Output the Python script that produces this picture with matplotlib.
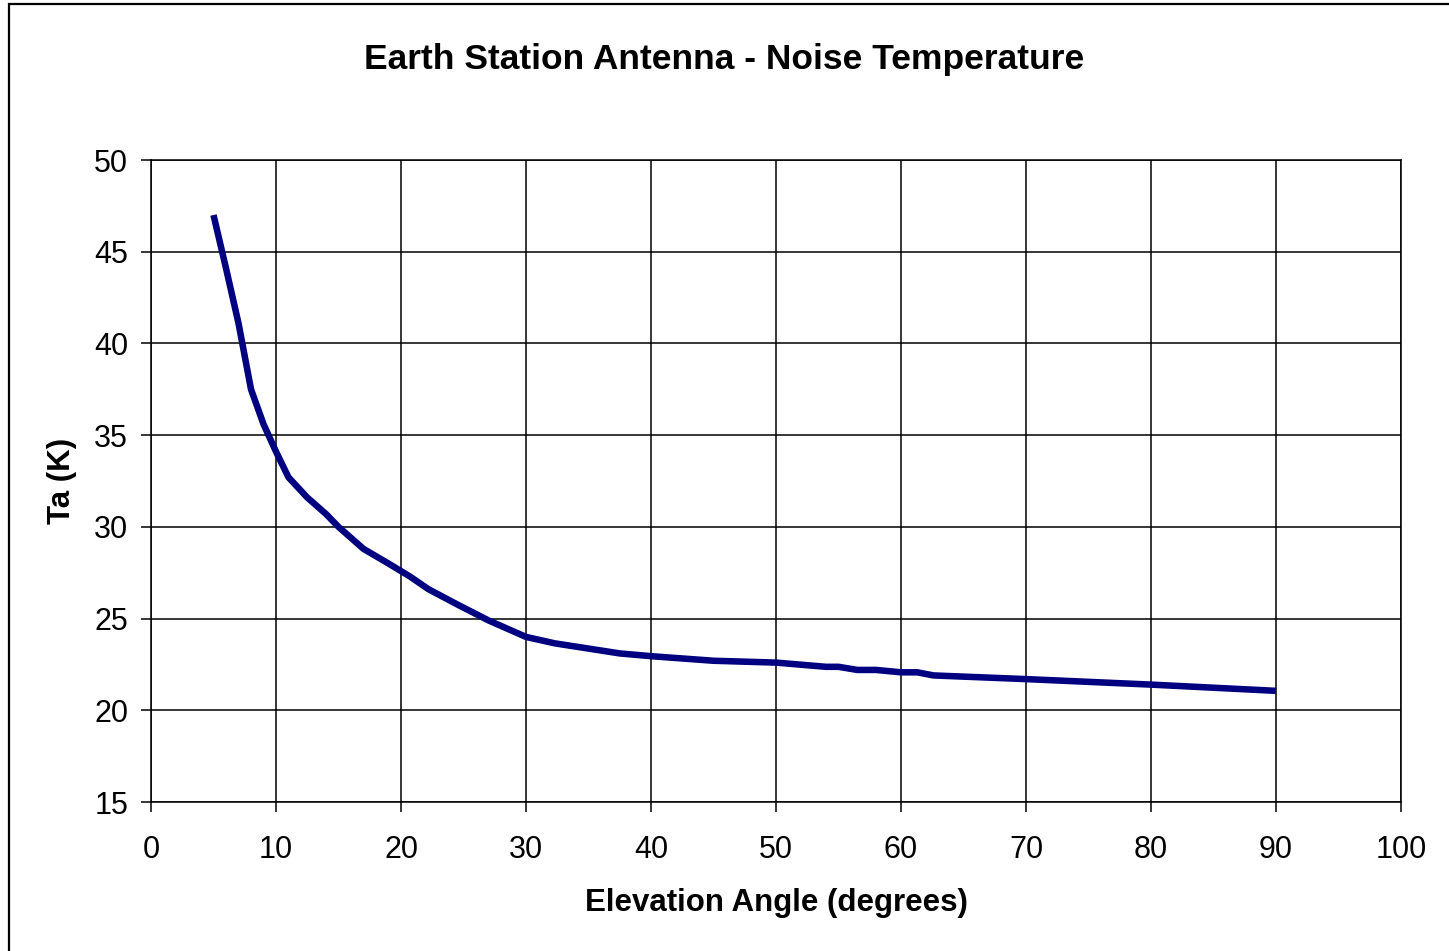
import matplotlib
matplotlib.use("Agg")
import matplotlib.pyplot as plt
from matplotlib.patches import Rectangle

# elevation angle (deg) vs antenna noise temperature (K)
elevation = [5, 6, 7, 8, 9, 10, 11, 12.5, 14, 15, 16, 17, 19, 20.7, 22.2,
             24.7, 27, 30, 32.3, 37.5, 40, 45, 50, 54, 55, 56.5, 58, 60,
             61.3, 62.6, 70, 80, 90]
noise_temp = [47.0, 44.1, 41.1, 37.5, 35.6, 34.1, 32.7, 31.6, 30.7, 30.0,
              29.4, 28.8, 28.0, 27.3, 26.6, 25.7, 24.9, 24.0, 23.65, 23.1,
              22.95, 22.7, 22.6, 22.37, 22.37, 22.2, 22.2, 22.07, 22.07,
              21.9, 21.7, 21.4, 21.06]

x_ticks = list(range(0, 101, 10))
y_ticks = list(range(15, 51, 5))

plt.rcParams['font.family'] = ['Liberation Sans', 'DejaVu Sans']

fig = plt.figure(figsize=(14.49, 9.51), dpi=100)
ax = fig.add_axes([151 / 1449, 1 - 802 / 951, 1250 / 1449, 642 / 951])

ax.plot(elevation, noise_temp, color='#000080', linewidth=4.7,
        solid_capstyle='butt', solid_joinstyle='round', zorder=3)

ax.set_xlim(0, 100)
ax.set_ylim(15, 50)
ax.set_xticks(x_ticks)
ax.set_yticks(y_ticks)
ax.grid(True, color='black', linewidth=1.1)
ax.tick_params(direction='out', length=7.5, width=1.1, labelsize=22)
ax.tick_params(axis='x', pad=16)
ax.tick_params(axis='y', pad=9)
for s in ax.spines.values():
    s.set_linewidth(1.1)

ax.set_xlabel('Elevation Angle (degrees)', fontsize=22.5, fontweight='bold', va='center')
ax.xaxis.set_label_coords(0.5, (802 - 903) / 642)
ax.set_ylabel('Ta (K)', fontsize=22.5, fontweight='bold', va='center')
ax.yaxis.set_label_coords((62 - 151) / 1250, (802 - 481) / 642)
fig.text(0.5, 1 - 60 / 951, 'Earth Station Antenna - Noise Temperature',
         ha='center', va='center', fontsize=25.5, fontweight='bold')

# outer chart border
fig.patches.append(Rectangle((9 / 1449, -0.05), 1.2, 0.05 + 1 - 4 / 951,
                             transform=fig.transFigure, fill=False,
                             edgecolor='black', linewidth=1.6))

fig.savefig('out.png', dpi=100)
